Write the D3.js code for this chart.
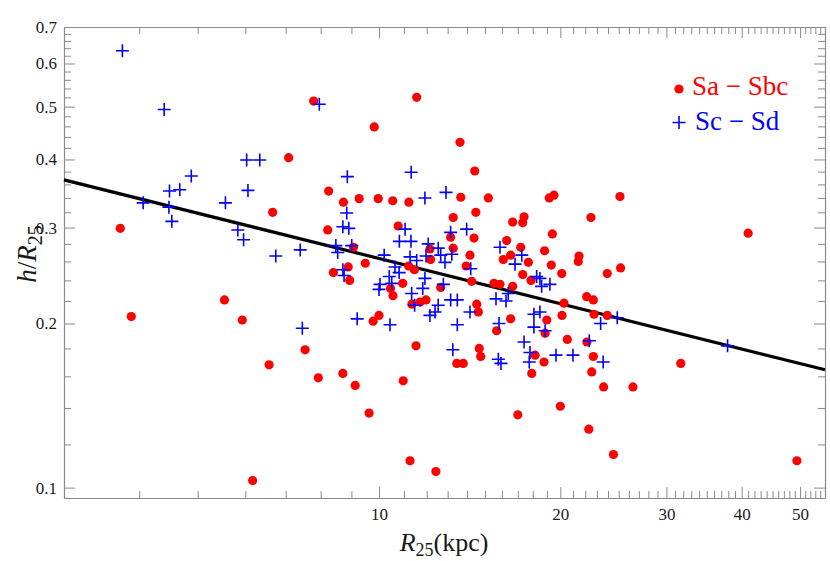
<!DOCTYPE html>
<html>
<head>
<meta charset="utf-8">
<script src="https://cdnjs.cloudflare.com/ajax/libs/d3/7.8.5/d3.min.js"></script>
<style>
    body { margin: 0; background: #fff; }
    text { font-family: "Liberation Serif", "Times New Roman", "DejaVu Serif", serif; }
</style>
</head>
<body>
<div id="chart"></div>
<script>
//绘图尺寸
const width = 830;
const height = 561;
const plot = {left: 64, right: 825, top: 27, bottom: 498};

//坐标轴数据
var xDomain = [3, 55];
var yDomain = [0.0957, 0.7];
var xMajor = [10, 20, 30, 40, 50];
var yMajor = [0.1, 0.2, 0.3, 0.4, 0.5, 0.6, 0.7];
var xMinor = d3.range(4, 56).filter(d => d % 10 !== 0);
var yMinor = d3.range(5, 35).filter(d => d % 5 !== 0).map(d => d / 50);

//拟合直线端点 (R25, h/R25)
var fitLine = [[3, 0.367], [55, 0.1645]];

var legendLabels = ["Sa \u2212 Sbc", "Sc \u2212 Sd"];

//Sa - Sbc : [R25, h/R25]
var saSbc = [
    [3.72, 0.299], [3.88, 0.206], [5.54, 0.221], [5.93, 0.203], [6.17, 0.103], [6.57, 0.168],
    [7.54, 0.179], [7.93, 0.159], [8.71, 0.162], [9.13, 0.154], [9.63, 0.137], [9.78, 0.202],
    [10.0, 0.207], [10.97, 0.157], [11.26, 0.112], [11.52, 0.182], [7.79, 0.512], [11.55, 0.52],
    [9.82, 0.459], [7.08, 0.403], [8.25, 0.35], [8.73, 0.334], [9.27, 0.339], [9.97, 0.339],
    [10.54, 0.336], [11.21, 0.334], [6.66, 0.32], [10.76, 0.302], [8.22, 0.297], [9.07, 0.276],
    [9.49, 0.258], [8.40, 0.248], [8.89, 0.254], [8.94, 0.240], [10.95, 0.237], [10.45, 0.232],
    [10.55, 0.225], [11.20, 0.255], [11.45, 0.251], [11.34, 0.217], [11.70, 0.219], [11.97, 0.221],
    [13.63, 0.430], [14.42, 0.381], [13.67, 0.341], [15.19, 0.340], [14.48, 0.320], [13.28, 0.313],
    [16.67, 0.307], [17.41, 0.314], [17.32, 0.306], [13.15, 0.288], [14.38, 0.287], [16.29, 0.284],
    [13.28, 0.275], [12.15, 0.274], [17.19, 0.276], [12.18, 0.262], [14.16, 0.267], [13.95, 0.255],
    [14.25, 0.239], [12.66, 0.233], [14.53, 0.217], [14.62, 0.210], [15.52, 0.237], [15.88, 0.236],
    [16.67, 0.234], [16.08, 0.262], [16.54, 0.267], [17.70, 0.259], [17.32, 0.246], [17.88, 0.240],
    [16.54, 0.204], [15.68, 0.194], [18.16, 0.175], [14.67, 0.180], [14.75, 0.174], [13.46, 0.169],
    [13.80, 0.169], [19.17, 0.340], [19.52, 0.344], [25.12, 0.342], [22.48, 0.313], [19.40, 0.292],
    [18.83, 0.272], [21.48, 0.266], [21.42, 0.260], [19.32, 0.256], [20.11, 0.247], [23.93, 0.247],
    [25.18, 0.253], [22.12, 0.224], [22.69, 0.221], [20.28, 0.218], [20.13, 0.207], [22.75, 0.208],
    [23.93, 0.207], [18.99, 0.203], [18.87, 0.192], [20.54, 0.187], [22.14, 0.185], [22.69, 0.174],
    [18.79, 0.170], [22.55, 0.163], [17.93, 0.162], [41.0, 0.293], [31.7, 0.169], [49.4, 0.112],
    [26.4, 0.153], [23.6, 0.153], [24.5, 0.115], [22.3, 0.128], [20.0, 0.141], [17.0, 0.136],
    [12.43, 0.107]
];

//Sc - Sd : [R25, h/R25]
var scSd = [
    [3.75, 0.633], [4.40, 0.494], [7.96, 0.505], [6.03, 0.399], [6.34, 0.399], [4.88, 0.373],
    [4.49, 0.350], [4.67, 0.352], [6.06, 0.351], [8.86, 0.372], [11.31, 0.379], [4.06, 0.333],
    [4.48, 0.327], [4.53, 0.308], [5.56, 0.333], [8.84, 0.319], [8.71, 0.301], [8.91, 0.299],
    [5.83, 0.297], [5.96, 0.285], [6.74, 0.266], [7.40, 0.273], [7.46, 0.196], [9.20, 0.204],
    [10.43, 0.199], [10.0, 0.231], [11.05, 0.298], [10.81, 0.283], [11.30, 0.283], [8.48, 0.278],
    [9.01, 0.278], [8.54, 0.270], [10.20, 0.267], [11.26, 0.265], [11.55, 0.261], [8.71, 0.251],
    [8.75, 0.245], [10.63, 0.254], [10.80, 0.248], [10.40, 0.244], [10.04, 0.236], [10.50, 0.237],
    [11.33, 0.227], [11.46, 0.216], [11.97, 0.266], [11.92, 0.242], [11.82, 0.232], [12.66, 0.267],
    [12.87, 0.259], [13.21, 0.268], [14.20, 0.252], [12.79, 0.236], [12.54, 0.216], [12.39, 0.210],
    [12.15, 0.207], [13.15, 0.221], [13.49, 0.221], [14.16, 0.210], [13.49, 0.199], [16.39, 0.227],
    [15.64, 0.222], [16.25, 0.220], [16.82, 0.257], [17.26, 0.267], [18.27, 0.244], [18.08, 0.208],
    [18.08, 0.197], [15.82, 0.200], [17.41, 0.185], [17.81, 0.177], [17.76, 0.170], [13.26, 0.179],
    [15.78, 0.172], [15.94, 0.169], [13.98, 0.298], [13.15, 0.294], [12.92, 0.348], [11.92, 0.340],
    [12.07, 0.280], [12.54, 0.275], [15.88, 0.276], [18.50, 0.242], [18.62, 0.234], [19.22, 0.236],
    [23.33, 0.200], [24.86, 0.205], [18.50, 0.210], [18.87, 0.194], [22.34, 0.186], [19.67, 0.175],
    [20.99, 0.175], [23.56, 0.170], [37.9, 0.182]
];

var svg = d3.select("#chart").append("svg")
    .attr("width", width).attr("height", height);

var x = d3.scaleLog().domain(xDomain).range([plot.left, plot.right]);
var y = d3.scaleLog().domain(yDomain).range([plot.bottom, plot.top]);

const frameColor = "#8a8a8a";
const majorLen = 11;
const minorLen = 7;
const serif = '"Liberation Serif", "Times New Roman", "DejaVu Serif", serif';

draw_frame();
draw_fit();
draw_points();
draw_legend();
draw_labels();

function styleAxis(g) {
    g.attr("color", frameColor)
        .attr("font-size", 17)
        .attr("font-family", serif);
    g.selectAll("text").attr("fill", "#1a1a1a");
    g.select(".domain").attr("stroke-width", 1.1);
    g.selectAll(".tick line").attr("stroke-width", 1);
}

function draw_frame() {
    //下方与左侧: 主刻度带标签
    svg.append("g")
        .attr("transform", "translate(0," + plot.bottom + ")")
        .call(d3.axisBottom(x).tickValues(xMajor).tickFormat(d3.format("d"))
            .tickSizeInner(-majorLen).tickSizeOuter(0).tickPadding(10))
        .call(styleAxis);
    svg.append("g")
        .attr("transform", "translate(0," + plot.bottom + ")")
        .call(d3.axisBottom(x).tickValues(xMinor).tickFormat("")
            .tickSizeInner(-minorLen).tickSizeOuter(0))
        .call(styleAxis);

    svg.append("g")
        .attr("transform", "translate(" + plot.left + ",0)")
        .call(d3.axisLeft(y).tickValues(yMajor).tickFormat(d3.format(".1f"))
            .tickSizeInner(-majorLen).tickSizeOuter(0).tickPadding(7))
        .call(styleAxis);
    svg.append("g")
        .attr("transform", "translate(" + plot.left + ",0)")
        .call(d3.axisLeft(y).tickValues(yMinor).tickFormat("")
            .tickSizeInner(-minorLen).tickSizeOuter(0))
        .call(styleAxis);

    //上方与右侧: 镜像刻度
    svg.append("g")
        .attr("transform", "translate(0," + plot.top + ")")
        .call(d3.axisTop(x).tickValues(xMajor).tickFormat("")
            .tickSizeInner(-majorLen).tickSizeOuter(0))
        .call(styleAxis);
    svg.append("g")
        .attr("transform", "translate(0," + plot.top + ")")
        .call(d3.axisTop(x).tickValues(xMinor).tickFormat("")
            .tickSizeInner(-minorLen).tickSizeOuter(0))
        .call(styleAxis);
    svg.append("g")
        .attr("transform", "translate(" + plot.right + ",0)")
        .call(d3.axisRight(y).tickValues(yMajor).tickFormat("")
            .tickSizeInner(-majorLen).tickSizeOuter(0))
        .call(styleAxis);
    svg.append("g")
        .attr("transform", "translate(" + plot.right + ",0)")
        .call(d3.axisRight(y).tickValues(yMinor).tickFormat("")
            .tickSizeInner(-minorLen).tickSizeOuter(0))
        .call(styleAxis);
}

function draw_fit() {
    var line = d3.line()
        .x(d => x(d[0]))
        .y(d => y(d[1]));
    svg.append("path")
        .datum(fitLine)
        .attr("d", line)
        .attr("fill", "none")
        .attr("stroke", "#000")
        .attr("stroke-width", 3.2);
}

function draw_points() {
    svg.append("g")
        .attr("id", "sa_sbc")
        .selectAll("circle")
        .data(saSbc)
        .enter()
        .append("circle")
        .attr("cx", d => x(d[0]))
        .attr("cy", d => y(d[1]))
        .attr("r", 4.6)
        .attr("fill", "#ff0000");

    svg.append("g")
        .attr("id", "sc_sd")
        .selectAll("path")
        .data(scSd)
        .enter()
        .append("path")
        .attr("transform", d => "translate(" + x(d[0]) + "," + y(d[1]) + ")")
        .attr("d", "M-6.5,0H6.5M0,-6.5V6.5")
        .attr("stroke", "#0000ff")
        .attr("stroke-width", 1.6)
        .attr("fill", "none");
}

function draw_legend() {
    var lg = svg.append("g").attr("id", "legend");
    lg.append("circle")
        .attr("cx", 679).attr("cy", 89).attr("r", 4.6)
        .attr("fill", "#ff0000");
    lg.append("text")
        .attr("x", 692).attr("y", 94.5)
        .attr("font-size", 27)
        .attr("fill", "#ff0000")
        .text(legendLabels[0]);

    lg.append("path")
        .attr("transform", "translate(679,122.5)")
        .attr("d", "M-6.5,0H6.5M0,-6.5V6.5")
        .attr("stroke", "#0000ff")
        .attr("stroke-width", 1.6);
    lg.append("text")
        .attr("x", 695).attr("y", 129.5)
        .attr("font-size", 27)
        .attr("fill", "#0000ff")
        .text(legendLabels[1]);
}

function draw_labels() {
    //x轴标题
    var xt = svg.append("text")
        .attr("x", 444).attr("y", 551)
        .attr("text-anchor", "middle")
        .attr("font-size", 26)
        .attr("fill", "#1a1a1a");
    xt.append("tspan").attr("font-style", "italic").text("R");
    xt.append("tspan").attr("font-size", 18).attr("dy", 5).text("25");
    xt.append("tspan").attr("dy", -5).text("(kpc)");

    //y轴标题
    var yt = svg.append("text")
        .attr("transform", "translate(36,254) rotate(-90)")
        .attr("text-anchor", "middle")
        .attr("font-size", 27)
        .attr("fill", "#1a1a1a");
    yt.append("tspan").attr("font-style", "italic").text("h");
    yt.append("tspan").text("/");
    yt.append("tspan").attr("font-style", "italic").text("R");
    yt.append("tspan").attr("font-size", 20).attr("dy", 6).text("25");
}
</script>
</body>
</html>
